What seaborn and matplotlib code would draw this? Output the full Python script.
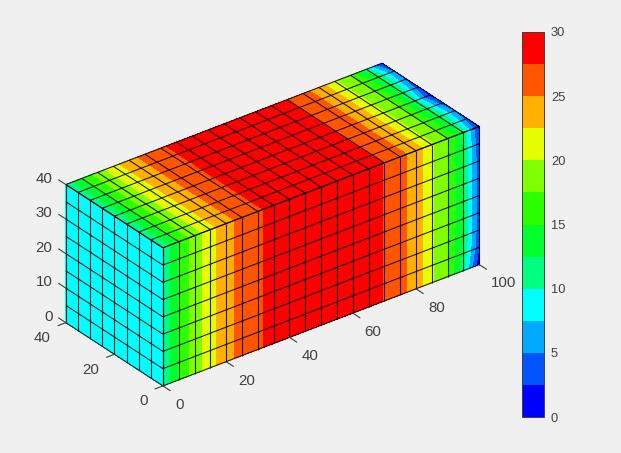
import numpy as np
import matplotlib
matplotlib.use("Agg")
import matplotlib.pyplot as plt
import seaborn as sns
from matplotlib.cm import ScalarMappable
from matplotlib.colors import BoundaryNorm, ListedColormap
from mpl_toolkits.mplot3d import proj3d

# grid nodes of the block
x_nodes = [0, 5, 10, 15, 20, 25, 30, 35, 40, 45, 50, 55, 60, 65, 70, 75, 80, 85, 90, 95, 100]
y_nodes = [0, 5, 10, 15, 20, 25, 30, 35, 40]
z_nodes = [0, 5, 10, 15, 20, 25, 30, 35, 40]

# temperature along x, same on the front and top faces except at the cold end
profile = [10.2, 15.0, 18.7, 21.4, 24.3, 25.6, 27.1, 28.3, 29.0, 29.5, 29.7,
           29.6, 29.2, 28.5, 27.4, 25.7, 24.0, 20.3, 17.4, 12.3, 3.2]
front_x95 = [10.8, 11.8, 12.2, 12.3, 12.3, 12.3, 12.3, 12.2, 11.6]   # by z
front_x100 = [0.2, 2.5, 3.2, 3.3, 3.3, 3.3, 3.2, 3.0, 1.5]           # by z
top_x95 = [11.6, 12.0, 12.3, 11.6, 10.8, 11.6, 12.3, 12.3, 10.6]     # by y
top_x100 = [1.0, 3.5, 4.5, 3.0, 0.8, 3.0, 4.0, 4.5, 1.0]             # by y
left_value = 9.0

levels = [0, 2.5, 5, 7.5, 10, 12.5, 15, 17.5, 20, 22.5, 25, 27.5, 30]
band_colors = ["#0000ff", "#0055ff", "#00aaff", "#00ffff", "#00ff80", "#00ff2b",
               "#2bff00", "#80ff00", "#e6ff00", "#ffb000", "#ff5500", "#ff0000"]
x_ticks = [0, 20, 40, 60, 80, 100]
y_ticks = [0, 20, 40]
z_ticks = [0, 10, 20, 30, 40]
bar_ticks = [0, 5, 10, 15, 20, 25, 30]

BG = "#f0f0f0"
TXT = "#404040"

sns.set_theme(style="white", font="Liberation Sans")
palette = sns.color_palette(band_colors)
cmap = ListedColormap(palette)
norm = BoundaryNorm(levels, cmap.N)

front = np.tile(profile, (len(z_nodes), 1))
front[:, -2] = front_x95
front[:, -1] = front_x100
top = np.tile(profile, (len(y_nodes), 1))
top[:, -2] = top_x95
top[:, -1] = top_x100
left = np.full((len(z_nodes), len(y_nodes)), left_value)

fig = plt.figure(figsize=(6.21, 4.53), dpi=100, facecolor=BG)
ax = fig.add_axes([46.6 / 621, 2.5 / 453, 440 / 621, 440 / 453], projection="3d", proj_type="ortho")
ax.set_facecolor("none")
ax.computed_zorder = False
ax.view_init(elev=30, azim=-127.5)
ax.set_box_aspect((100, 40, 40), zoom=1.0106)

# three visible faces, z order does not matter since the block is convex
X, Z = np.meshgrid(x_nodes, z_nodes)
ax.contourf(X, front, Z, zdir="y", offset=0, levels=levels, cmap=cmap, norm=norm, zorder=1)
X, Y = np.meshgrid(x_nodes, y_nodes)
ax.contourf(X, Y, top, zdir="z", offset=40, levels=levels, cmap=cmap, norm=norm, zorder=1)
Y, Z = np.meshgrid(y_nodes, z_nodes)
ax.contourf(left, Y, Z, zdir="x", offset=0, levels=levels, cmap=cmap, norm=norm, zorder=1)

# cell lines
grid_kw = dict(color="black", linewidth=0.8, alpha=0.85, zorder=2)
X, Z = np.meshgrid(x_nodes, z_nodes)
ax.plot_wireframe(X, np.zeros_like(X), Z, **grid_kw)
X, Y = np.meshgrid(x_nodes, y_nodes)
ax.plot_wireframe(X, Y, np.full_like(X, 40), **grid_kw)
Y, Z = np.meshgrid(y_nodes, z_nodes)
ax.plot_wireframe(np.zeros_like(Y), Y, Z, **grid_kw)

ax.set_xlim(0, 100, view_margin=0)
ax.set_ylim(0, 40, view_margin=0)
ax.set_zlim(0, 40, view_margin=0)
ax.set_axis_off()


def edge_label(x, y, z, label, ha):
    # 2d text at the projected spot, so the labels stay plain axes texts
    px, py, _ = proj3d.proj_transform(x, y, z, ax.get_proj())
    ax.text2D(px, py, label, transform=ax.transData, color=TXT, fontsize=10.8, ha=ha, va="center", zorder=4)


# ticks and labels sit on the three visible edges like matlab's box
tick_kw = dict(color=TXT, linewidth=0.8, zorder=3)
for t in x_ticks:
    ax.plot([t, t], [0, -3], [0, 0], **tick_kw)
    edge_label(t, -4.95, -3.2, str(t), "left")
for t in y_ticks:
    ax.plot([0, -2.5], [t, t], [0, 0], **tick_kw)
    edge_label(-4.75, t, -2.8, str(t), "right")
for t in z_ticks:
    ax.plot([0, 0], [40, 43], [t, t], **tick_kw)
    edge_label(0, 45.5, t - 0.78, str(t), "right")

cax = fig.add_axes([522 / 621, 1 - 417 / 453, 22 / 621, 385 / 453])
bar = fig.colorbar(ScalarMappable(norm=norm, cmap=cmap), cax=cax, ticks=bar_ticks, spacing="proportional")
bar.minorticks_off()
bar.ax.tick_params(direction="in", length=3, width=0.7, color=TXT, labelcolor=TXT, labelsize=9.3, pad=5)
bar.ax.set_yticklabels([str(t) for t in bar_ticks])
bar.outline.set_edgecolor(TXT)
bar.outline.set_linewidth(0.7)

fig.savefig("out.png", dpi=100, facecolor=BG)
